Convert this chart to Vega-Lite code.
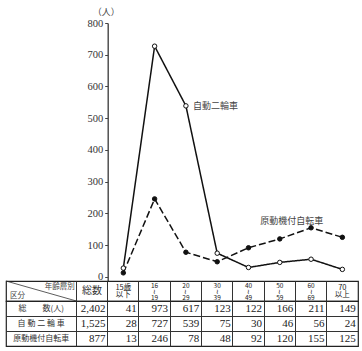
{
  "$schema": "https://vega.github.io/schema/vega-lite/v6.json",
  "autosize": {"type": "pad"},
  "padding": {"left": 5, "top": 7, "right": 5, "bottom": 4},
  "background": "white",
  "spacing": 0,
  "bounds": "flush",
  "config": {
    "font": "Liberation Serif, Noto Sans CJK JP",
    "view": {"stroke": "#222", "strokeWidth": 1.2}
  },
  "datasets": {
    "t": [
      {"group": "総数(人)", "col": "総数", "n": 2402},
      {"group": "総数(人)", "col": "15歳以下", "n": 41},
      {"group": "総数(人)", "col": "16~19", "n": 973},
      {"group": "総数(人)", "col": "20~29", "n": 617},
      {"group": "総数(人)", "col": "30~39", "n": 123},
      {"group": "総数(人)", "col": "40~49", "n": 122},
      {"group": "総数(人)", "col": "50~59", "n": 166},
      {"group": "総数(人)", "col": "60~69", "n": 211},
      {"group": "総数(人)", "col": "70以上", "n": 149},
      {"group": "自動二輪車", "col": "総数", "n": 1525},
      {"group": "自動二輪車", "col": "15歳以下", "n": 28},
      {"group": "自動二輪車", "col": "16~19", "n": 727},
      {"group": "自動二輪車", "col": "20~29", "n": 539},
      {"group": "自動二輪車", "col": "30~39", "n": 75},
      {"group": "自動二輪車", "col": "40~49", "n": 30},
      {"group": "自動二輪車", "col": "50~59", "n": 46},
      {"group": "自動二輪車", "col": "60~69", "n": 56},
      {"group": "自動二輪車", "col": "70以上", "n": 24},
      {"group": "原動機付自転車", "col": "総数", "n": 877},
      {"group": "原動機付自転車", "col": "15歳以下", "n": 13},
      {"group": "原動機付自転車", "col": "16~19", "n": 246},
      {"group": "原動機付自転車", "col": "20~29", "n": 78},
      {"group": "原動機付自転車", "col": "30~39", "n": 48},
      {"group": "原動機付自転車", "col": "40~49", "n": 92},
      {"group": "原動機付自転車", "col": "50~59", "n": 120},
      {"group": "原動機付自転車", "col": "60~69", "n": 155},
      {"group": "原動機付自転車", "col": "70以上", "n": 125}
    ],
    "rows": [
      {"group": "総数(人)", "label": "総　　数(人)"},
      {"group": "自動二輪車", "label": "自 動 二 輪 車"},
      {"group": "原動機付自転車", "label": "原動機付自転車"}
    ],
    "heads": [
      {"col": "総数", "head": "総数", "lines": 1},
      {"col": "15歳以下", "head": "15歳\n以下", "lines": 2},
      {"col": "16~19", "head": "16\n≀\n19", "lines": 3},
      {"col": "20~29", "head": "20\n≀\n29", "lines": 3},
      {"col": "30~39", "head": "30\n≀\n39", "lines": 3},
      {"col": "40~49", "head": "40\n≀\n49", "lines": 3},
      {"col": "50~59", "head": "50\n≀\n59", "lines": 3},
      {"col": "60~69", "head": "60\n≀\n69", "lines": 3},
      {"col": "70以上", "head": "70\n以上", "lines": 2}
    ],
    "corner": [
      {"pos": "top", "t": "年齢層別"},
      {"pos": "bottom", "t": "区分"}
    ],
    "one": [{"k": 1}]
  },
  "vconcat": [
    {
      "width": 352,
      "height": 258,
      "view": {"stroke": null},
      "data": {"name": "t"},
      "transform": [
        {"filter": {"field": "group", "oneOf": ["自動二輪車", "原動機付自転車"]}},
        {"filter": {"field": "col", "oneOf": ["15歳以下", "16~19", "20~29", "30~39", "40~49", "50~59", "60~69", "70以上"]}}
      ],
      "encoding": {
        "x": {
          "field": "col", "type": "nominal", "bandPosition": 0.5,
          "scale": {"type": "band", "domain": ["L1", "L2", "総数", "15歳以下", "16~19", "20~29", "30~39", "40~49", "50~59", "60~69", "70以上"], "paddingInner": 0, "paddingOuter": 0.125, "align": 1},
          "axis": null
        },
        "y": {
          "field": "n", "type": "quantitative",
          "scale": {"domain": [-12.6, 800], "nice": false, "zero": false},
          "axis": {
            "values": [0, 100, 200, 300, 400, 500, 600, 700, 800],
            "offset": -101.7,
            "grid": false,
            "title": "（人）",
            "titleAngle": 0,
            "titleX": -2,
            "titleY": -12,
            "titleAlign": "center",
            "titleBaseline": "middle",
            "titleFont": "Noto Sans CJK JP",
            "titleFontSize": 9,
            "titleFontWeight": "normal",
            "titleColor": "#444",
            "labelFont": "Liberation Serif",
            "labelFontSize": 10.5,
            "labelColor": "#333",
            "labelPadding": 2,
            "tickSize": 3,
            "tickColor": "#444",
            "domainColor": "#444",
            "domainWidth": 1.4
          }
        }
      },
      "layer": [
        {
          "mark": {"type": "line", "color": "#111", "strokeWidth": 1.5},
          "encoding": {
            "strokeDash": {"field": "group", "type": "nominal", "scale": {"domain": ["自動二輪車", "原動機付自転車"], "range": [[1, 0], [7, 3]]}, "legend": null}
          }
        },
        {
          "mark": {"type": "point", "filled": true, "stroke": "#111", "strokeWidth": 1, "size": 20, "opacity": 1},
          "encoding": {
            "fill": {"field": "group", "type": "nominal", "scale": {"domain": ["自動二輪車", "原動機付自転車"], "range": ["white", "#111"]}, "legend": null}
          }
        },
        {
          "transform": [{"filter": "datum.col == '20~29' && datum.group == '自動二輪車'"}],
          "mark": {"type": "text", "align": "left", "dx": 7, "font": "Noto Sans CJK JP", "fontSize": 9, "color": "#444"},
          "encoding": {"text": {"field": "group"}}
        },
        {
          "transform": [{"filter": "datum.col == '50~59' && datum.group == '原動機付自転車'"}],
          "mark": {"type": "text", "align": "center", "dx": 12, "dy": -18, "font": "Noto Sans CJK JP", "fontSize": 9, "color": "#444"},
          "encoding": {"text": {"field": "group"}}
        }
      ]
    },
    {
      "width": 352,
      "height": 20,
      "layer": [
        {
          "data": {"name": "one"},
          "mark": {"type": "rule", "color": "#333", "strokeWidth": 0.8},
          "encoding": {
            "x": {"datum": "L1", "type": "nominal", "bandPosition": -0.25,
              "scale": {"type": "band", "domain": ["L1", "L2", "総数", "15歳以下", "16~19", "20~29", "30~39", "40~49", "50~59", "60~69", "70以上"], "paddingInner": 0, "paddingOuter": 0.125, "align": 1},
              "axis": {"values": ["総数", "15歳以下", "16~19", "20~29", "30~39", "40~49", "50~59", "60~69", "70以上"], "bandPosition": 0, "grid": true, "gridColor": "#333", "gridWidth": 1, "gridOpacity": 1, "labels": false, "ticks": false, "domain": false, "title": null}},
            "x2": {"datum": "L2", "bandPosition": 1},
            "y": {"datum": 1, "type": "quantitative", "scale": {"domain": [0, 1]}, "axis": null},
            "y2": {"datum": 0}
          }
        },
        {
          "data": {"name": "heads"},
          "transform": [{"filter": "datum.lines == 3"}],
          "mark": {"type": "text", "align": "center", "baseline": "top", "dy": -8, "lineBreak": "\n", "font": "Noto Sans CJK JP", "fontSize": 6.5, "lineHeight": 6, "color": "#222"},
          "encoding": {
            "x": {"field": "col", "type": "nominal", "bandPosition": 0.5,
              "scale": {"type": "band", "domain": ["L1", "L2", "総数", "15歳以下", "16~19", "20~29", "30~39", "40~49", "50~59", "60~69", "70以上"], "paddingInner": 0, "paddingOuter": 0.125, "align": 1},
              "axis": {"values": ["総数", "15歳以下", "16~19", "20~29", "30~39", "40~49", "50~59", "60~69", "70以上"], "bandPosition": 0, "grid": true, "gridColor": "#333", "gridWidth": 1, "gridOpacity": 1, "labels": false, "ticks": false, "domain": false, "title": null}},
            "text": {"field": "head"}
          }
        },
        {
          "data": {"name": "heads"},
          "transform": [{"filter": "datum.lines == 2"}],
          "mark": {"type": "text", "align": "center", "baseline": "top", "dy": -7.5, "lineBreak": "\n", "font": "Noto Sans CJK JP", "fontSize": 7.5, "lineHeight": 7.5, "color": "#222"},
          "encoding": {
            "x": {"field": "col", "type": "nominal", "bandPosition": 0.5,
              "scale": {"type": "band", "domain": ["L1", "L2", "総数", "15歳以下", "16~19", "20~29", "30~39", "40~49", "50~59", "60~69", "70以上"], "paddingInner": 0, "paddingOuter": 0.125, "align": 1},
              "axis": {"values": ["総数", "15歳以下", "16~19", "20~29", "30~39", "40~49", "50~59", "60~69", "70以上"], "bandPosition": 0, "grid": true, "gridColor": "#333", "gridWidth": 1, "gridOpacity": 1, "labels": false, "ticks": false, "domain": false, "title": null}},
            "text": {"field": "head"}
          }
        },
        {
          "data": {"name": "heads"},
          "transform": [{"filter": "datum.lines == 1"}],
          "mark": {"type": "text", "align": "center", "baseline": "middle", "fontSize": 10, "font": "Noto Sans CJK JP", "color": "#333"},
          "encoding": {
            "x": {"field": "col", "type": "nominal", "bandPosition": 0.5,
              "scale": {"type": "band", "domain": ["L1", "L2", "総数", "15歳以下", "16~19", "20~29", "30~39", "40~49", "50~59", "60~69", "70以上"], "paddingInner": 0, "paddingOuter": 0.125, "align": 1},
              "axis": {"values": ["総数", "15歳以下", "16~19", "20~29", "30~39", "40~49", "50~59", "60~69", "70以上"], "bandPosition": 0, "grid": true, "gridColor": "#333", "gridWidth": 1, "gridOpacity": 1, "labels": false, "ticks": false, "domain": false, "title": null}},
            "text": {"field": "head"}
          }
        },
        {
          "data": {"name": "corner"},
          "transform": [{"filter": "datum.pos == 'top'"}],
          "mark": {"type": "text", "align": "right", "baseline": "middle", "dy": -4.5, "fontSize": 7.5, "font": "Noto Sans CJK JP", "color": "#444"},
          "encoding": {
            "x": {"datum": "L2", "type": "nominal", "bandPosition": 0.95,
              "scale": {"type": "band", "domain": ["L1", "L2", "総数", "15歳以下", "16~19", "20~29", "30~39", "40~49", "50~59", "60~69", "70以上"], "paddingInner": 0, "paddingOuter": 0.125, "align": 1},
              "axis": {"values": ["総数", "15歳以下", "16~19", "20~29", "30~39", "40~49", "50~59", "60~69", "70以上"], "bandPosition": 0, "grid": true, "gridColor": "#333", "gridWidth": 1, "gridOpacity": 1, "labels": false, "ticks": false, "domain": false, "title": null}},
            "text": {"field": "t"}
          }
        },
        {
          "data": {"name": "corner"},
          "transform": [{"filter": "datum.pos == 'bottom'"}],
          "mark": {"type": "text", "align": "left", "baseline": "middle", "dy": 5, "fontSize": 7.5, "font": "Noto Sans CJK JP", "color": "#444"},
          "encoding": {
            "x": {"datum": "L1", "type": "nominal", "bandPosition": -0.12,
              "scale": {"type": "band", "domain": ["L1", "L2", "総数", "15歳以下", "16~19", "20~29", "30~39", "40~49", "50~59", "60~69", "70以上"], "paddingInner": 0, "paddingOuter": 0.125, "align": 1},
              "axis": {"values": ["総数", "15歳以下", "16~19", "20~29", "30~39", "40~49", "50~59", "60~69", "70以上"], "bandPosition": 0, "grid": true, "gridColor": "#333", "gridWidth": 1, "gridOpacity": 1, "labels": false, "ticks": false, "domain": false, "title": null}},
            "text": {"field": "t"}
          }
        }
      ]
    },
    {
      "width": 352,
      "height": 45,
      "layer": [
        {
          "data": {"name": "t"},
          "mark": {"type": "text", "align": "right", "baseline": "middle", "fontSize": 11, "font": "Liberation Serif", "color": "#222"},
          "encoding": {
            "x": {"field": "col", "type": "nominal", "bandPosition": 0.93,
              "scale": {"type": "band", "domain": ["L1", "L2", "総数", "15歳以下", "16~19", "20~29", "30~39", "40~49", "50~59", "60~69", "70以上"], "paddingInner": 0, "paddingOuter": 0.125, "align": 1},
              "axis": {"values": ["総数", "15歳以下", "16~19", "20~29", "30~39", "40~49", "50~59", "60~69", "70以上"], "bandPosition": 0, "grid": true, "gridColor": "#333", "gridWidth": 1, "gridOpacity": 1, "labels": false, "ticks": false, "domain": false, "title": null}},
            "y": {"field": "group", "type": "nominal", "bandPosition": 0.5,
              "scale": {"type": "band", "domain": ["総数(人)", "自動二輪車", "原動機付自転車"], "paddingInner": 0, "paddingOuter": 0},
              "axis": {"values": ["自動二輪車", "原動機付自転車"], "bandPosition": 0, "grid": true, "gridColor": "#333", "gridWidth": 1, "gridOpacity": 1, "labels": false, "ticks": false, "domain": false, "title": null}},
            "text": {"field": "n", "type": "quantitative", "format": ",d"}
          }
        },
        {
          "data": {"name": "rows"},
          "mark": {"type": "text", "align": "center", "baseline": "middle", "fontSize": 8, "font": "Noto Sans CJK JP", "color": "#333"},
          "encoding": {
            "x": {"datum": "L2", "type": "nominal", "bandPosition": -0.125,
              "scale": {"type": "band", "domain": ["L1", "L2", "総数", "15歳以下", "16~19", "20~29", "30~39", "40~49", "50~59", "60~69", "70以上"], "paddingInner": 0, "paddingOuter": 0.125, "align": 1},
              "axis": {"values": ["総数", "15歳以下", "16~19", "20~29", "30~39", "40~49", "50~59", "60~69", "70以上"], "bandPosition": 0, "grid": true, "gridColor": "#333", "gridWidth": 1, "gridOpacity": 1, "labels": false, "ticks": false, "domain": false, "title": null}},
            "y": {"field": "group", "type": "nominal", "bandPosition": 0.5,
              "scale": {"type": "band", "domain": ["総数(人)", "自動二輪車", "原動機付自転車"], "paddingInner": 0, "paddingOuter": 0},
              "axis": {"values": ["自動二輪車", "原動機付自転車"], "bandPosition": 0, "grid": true, "gridColor": "#333", "gridWidth": 1, "gridOpacity": 1, "labels": false, "ticks": false, "domain": false, "title": null}},
            "text": {"field": "label"}
          }
        }
      ]
    }
  ]
}
